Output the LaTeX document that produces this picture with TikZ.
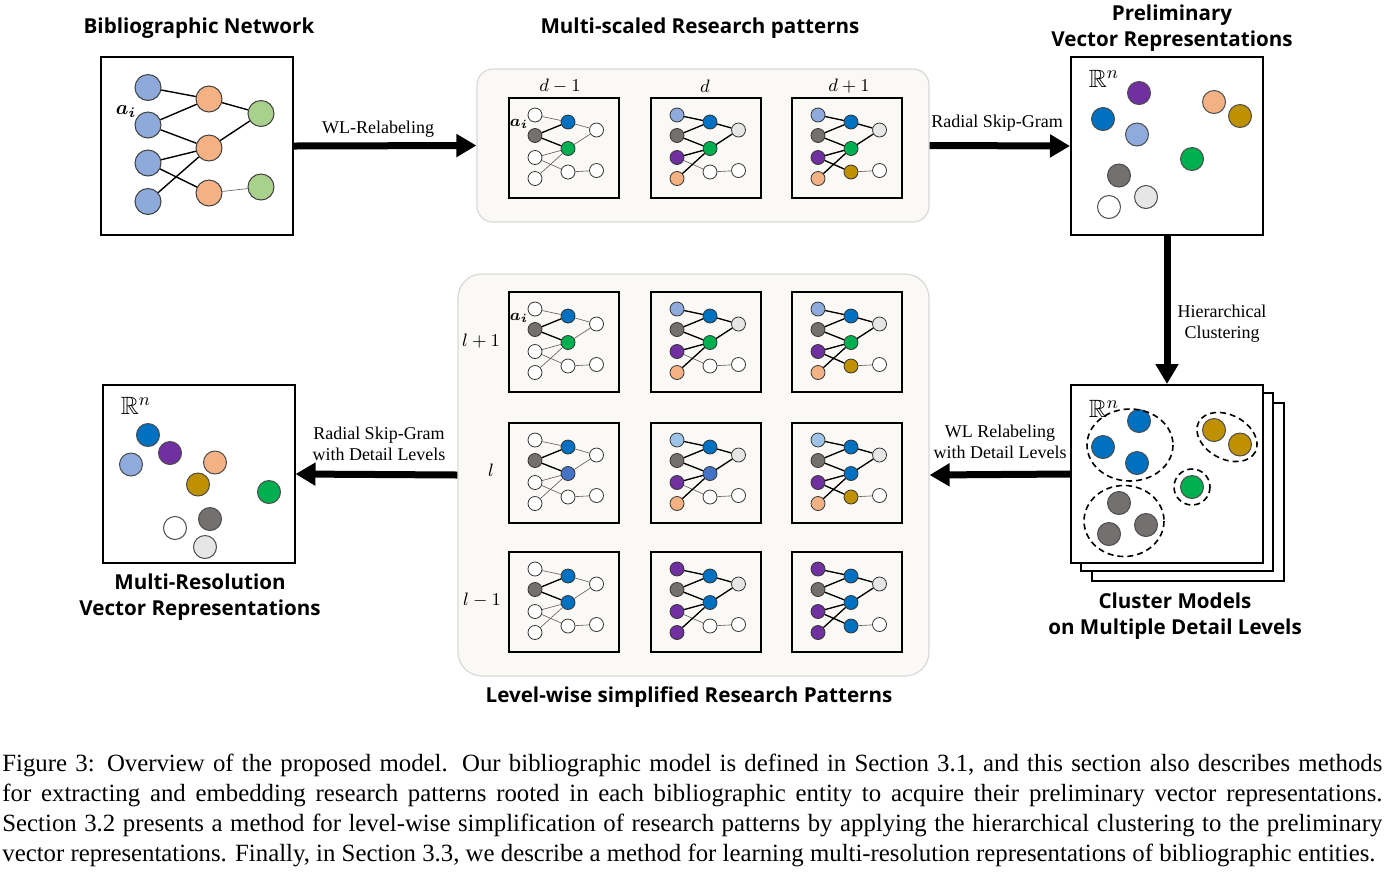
\documentclass[tikz,border=0pt]{standalone}
\usepackage{amsmath,amssymb}
\usepackage{fontspec}
\setmainfont{Liberation Serif}
\newfontfamily\headfont{Open Sans}
\usetikzlibrary{arrows.meta}

\definecolor{netblue}{HTML}{8EAADB}
\definecolor{netorange}{HTML}{F4B183}
\definecolor{netgreen}{HTML}{A9D18E}
\definecolor{pltblue}{HTML}{8FAADC}
\definecolor{pskyblue}{HTML}{9DC3E6}
\definecolor{pgray}{HTML}{747070}
\definecolor{pblue}{HTML}{0070C0}
\definecolor{pmblue}{HTML}{4472C4}
\definecolor{pgreen}{HTML}{00B050}
\definecolor{ppurple}{HTML}{7030A0}
\definecolor{porange}{HTML}{F4B183}
\definecolor{plgray}{HTML}{E7E6E6}
\definecolor{pgold}{HTML}{BF9000}
\definecolor{panelbg}{HTML}{FAF9F6}

\tikzset{
  frame/.style={rectangle,draw,line width=1pt,minimum width=96pt,minimum height=89pt,fill=white},
  pbox/.style={rectangle,draw,line width=0.9pt,minimum width=55pt,minimum height=50pt},
  panel/.style={rectangle,draw=black!15,line width=0.6pt,fill=panelbg},
  netdot/.style={circle,draw=black!75,line width=0.5pt,minimum size=13pt,inner sep=0pt},
  vecdot/.style={circle,draw=black!70,line width=0.5pt,minimum size=11.5pt,inner sep=0pt},
  pdot/.style={circle,draw=black!80,line width=0.4pt,minimum size=7pt,inner sep=0pt},
  netedge/.style={line width=0.7pt},
  thinedge/.style={line width=0.3pt,draw=black!65},
  thickedge/.style={line width=0.65pt},
  heading/.style={font=\headfont\bfseries\fontsize{10.3}{13}\selectfont,align=center},
  flowlabel/.style={font=\fontsize{9}{10.5}\selectfont,align=center},
  levellabel/.style={font=\fontsize{9}{10}\selectfont},
  space/.style={font=\fontsize{12.5}{12.5}\selectfont},
  bigarrow/.style={line width=3.5pt,-{Triangle[length=10pt,width=11pt]}},
  cluster/.style={dash pattern=on 3pt off 2pt,line width=0.8pt}
}

% bold edges of the three pattern columns
\newcommand{\edgesA}{2/5,2/6}
\newcommand{\edgesB}{1/5,2/5,2/6,3/6,4/6,5/8,6/8}
\newcommand{\edgesC}{1/5,2/5,2/6,3/6,3/7,4/6,5/8,6/8}

% research pattern: #1 name, #2 top-left, #3 fills (L1..L4,M1..M3,R1,R2), #4 bold edges
\newcommand{\rpattern}[4]{
  \begin{scope}[shift={#2}]
    \node (#1) at (55,50) [pbox] {};
    \foreach \c [count=\i] in {#3} {
      \ifcase\i\or\def\px{26}\def\py{17}\or\def\px{26}\def\py{37.5}\or\def\px{26}\def\py{59.5}\or\def\px{26}\def\py{80.5}%
      \or\def\px{59}\def\py{24}\or\def\px{59}\def\py{50.5}\or\def\px{59}\def\py{74}%
      \or\def\px{87.5}\def\py{32}\or\def\px{87.5}\def\py{72.5}\fi
      \node (#1-\i) at (\px,\py) [pdot,fill=\c] {};
    }
    \foreach \a/\b in {1/5,2/5,2/6,3/6,3/7,4/6,5/8,6/8,7/9}
      \draw[thinedge] (#1-\a) -- (#1-\b);
    \foreach \a/\b in #4
      \draw[thickedge] (#1-\a) -- (#1-\b);
  \end{scope}}

\begin{document}
\begin{tikzpicture}[x=0.5pt,y=-0.5pt]
\useasboundingbox (0,0) rectangle (1392,874);

% bibliographic network
\node (bib) at (197,146) [frame] {};
\node (hbib) at (199,28) [heading] {Bibliographic Network};
\foreach \y [count=\i] in {87.5,125,163,201.5} \node (b\i) at (148,\y) [netdot,fill=netblue] {};
\foreach \y [count=\i] in {99,148,193} \node (o\i) at (209,\y) [netdot,fill=netorange] {};
\foreach \y [count=\i] in {113.5,187} \node (g\i) at (261,\y) [netdot,fill=netgreen] {};
\foreach \a/\b in {b1/o1,b2/o1,b2/o2,b3/o2,b3/o3,b4/o2,o1/g1,o2/g1} \draw[netedge] (\a) -- (\b);
\draw[thinedge] (o3) -- (g2);
\node (abib) at (126,112) [font=\fontsize{10}{10}\selectfont] {$\boldsymbol{a_i}$};

% multi-scaled research patterns
\node (top) at (703,145.5) [panel,rounded corners=8pt,minimum width=226pt,minimum height=76.5pt] {};
\node (htop) at (700,28) [heading] {Multi-scaled Research patterns};
\node (ld1) at (560,86) [levellabel] {$d-1$};
\node (ld2) at (705,86) [levellabel] {$d$};
\node (ld3) at (849,86) [levellabel] {$d+1$};
\rpattern{d1}{(509,98)}{white,pgray,white,white,pblue,pgreen,white,white,white}{\edgesA}
\rpattern{d2}{(651,98)}{pltblue,pgray,ppurple,porange,pblue,pgreen,white,plgray,white}{\edgesB}
\rpattern{d3}{(792,98)}{pltblue,pgray,ppurple,porange,pblue,pgreen,pgold,plgray,white}{\edgesC}
\node (ad1) at (519,124) [font=\fontsize{8.5}{8.5}\selectfont] {$\boldsymbol{a_i}$};

% preliminary vectors
\node (pre) at (1167,146) [frame] {};
\node (hpre) at (1172,28) [heading] {Preliminary\\Vector Representations};
\node (rpre) at (1104,79) [space] {$\mathbb{R}^n$};
\foreach \c/\x/\y [count=\i] in {ppurple/1139/93,pblue/1103/119,pltblue/1137/134.5,porange/1214/102,pgold/1240/116,pgreen/1192/159,pgray/1119/175.5,plgray/1146/197,white/1109/207}
  \node (v\i) at (\x,\y) [vecdot,fill=\c] {};

% cluster models
\node (cl3) at (1188,492) [frame] {};
\node (cl2) at (1177,482) [frame] {};
\node (cl) at (1167,474) [frame] {};
\node (hcl) at (1175,616) [heading] {Cluster Models\\on Multiple Detail Levels};
\node (rcl) at (1104,409) [space] {$\mathbb{R}^n$};
\foreach \c/\x/\y [count=\i] in {pblue/1139/421,pblue/1103/447,pblue/1137/463,pgold/1214/430,pgold/1240/444.5,pgreen/1192/487,pgray/1119/503,pgray/1109/534,pgray/1146/525}
  \node (c\i) at (\x,\y) [vecdot,fill=\c] {};
\draw[cluster] (1130,445) ellipse (43 and 36);
\draw[cluster,rotate around={-28:(1227,437)}] (1227,437) ellipse (32 and 22);
\draw[cluster] (1192,487) circle (18);
\draw[cluster] (1124,521) ellipse (40 and 35.5);

% level-wise simplified patterns
\node (low) at (693.5,475) [panel,rounded corners=12pt,minimum width=235.5pt,minimum height=201pt] {};
\node (hlow) at (689,697) [heading] {Level-wise simplified Research Patterns};
\node (ll1) at (481,341) [levellabel] {$l+1$};
\node (ll2) at (491,470) [levellabel] {$l$};
\node (ll3) at (482,600) [levellabel] {$l-1$};
\rpattern{u1}{(509,292)}{white,pgray,white,white,pblue,pgreen,white,white,white}{\edgesA}
\rpattern{u2}{(651,292)}{pltblue,pgray,ppurple,porange,pblue,pgreen,white,plgray,white}{\edgesB}
\rpattern{u3}{(792,292)}{pltblue,pgray,ppurple,porange,pblue,pgreen,pgold,plgray,white}{\edgesC}
\rpattern{m1}{(509,423)}{white,pgray,white,white,pblue,pmblue,white,white,white}{\edgesA}
\rpattern{m2}{(651,423)}{pskyblue,pgray,ppurple,porange,pblue,pmblue,white,plgray,white}{\edgesB}
\rpattern{m3}{(792,423)}{pskyblue,pgray,ppurple,porange,pblue,pblue,pgold,plgray,white}{\edgesC}
\rpattern{s1}{(509,552)}{white,pgray,white,white,pblue,pblue,white,white,white}{\edgesA}
\rpattern{s2}{(651,552)}{ppurple,pgray,ppurple,ppurple,pblue,pblue,white,plgray,white}{\edgesB}
\rpattern{s3}{(792,552)}{ppurple,pgray,ppurple,ppurple,pblue,pblue,pblue,plgray,white}{\edgesC}
\node (au1) at (519,318) [font=\fontsize{8.5}{8.5}\selectfont] {$\boldsymbol{a_i}$};

% multi-resolution vectors
\node (mr) at (198.5,474) [frame] {};
\node (hmr) at (200,597) [heading] {Multi-Resolution\\Vector Representations};
\node (rmr) at (136,406) [space] {$\mathbb{R}^n$};
\foreach \c/\x/\y [count=\i] in {pblue/148/435,ppurple/170/453,pltblue/131/464.5,porange/215/462.5,pgold/198/484.5,pgreen/269/492,pgray/210/519,white/175/528,plgray/205/547}
  \node (r\i) at (\x,\y) [vecdot,fill=\c] {};

% arrows
\draw[bigarrow] (bib.east) -- (top.west);
\draw[bigarrow] (top.east) -- (pre.west);
\draw[bigarrow] (pre.south) -- (cl.north);
\draw[bigarrow] (cl.west) -- (low.east);
\draw[bigarrow] (low.west) -- (mr.east);
\node (f1) at (378,129) [flowlabel] {WL-Relabeling};
\node (f2) at (997,123) [flowlabel] {Radial Skip-Gram};
\node (f3) at (1222,323.5) [flowlabel] {Hierarchical\\Clustering};
\node (f4) at (1000,442) [flowlabel] {WL Relabeling\\with Detail Levels};
\node (f5) at (379,443.5) [flowlabel] {Radial Skip-Gram\\with Detail Levels};

% caption
\node (cap) at (2,754) [anchor=north west,inner sep=0pt,text width=690pt,align=justify,font=\fontsize{12.4}{15}\selectfont]
  {Figure 3: Overview of the proposed model. Our bibliographic model is defined in Section 3.1, and this section also describes methods\linebreak
   for extracting and embedding research patterns rooted in each bibliographic entity to acquire their preliminary vector representations.\linebreak
   Section 3.2 presents a method for level-wise simplification of research patterns by applying the hierarchical clustering to the preliminary\linebreak
   vector representations. Finally, in Section 3.3, we describe a method for learning multi-resolution representations of bibliographic entities.};
\end{tikzpicture}
\end{document}
